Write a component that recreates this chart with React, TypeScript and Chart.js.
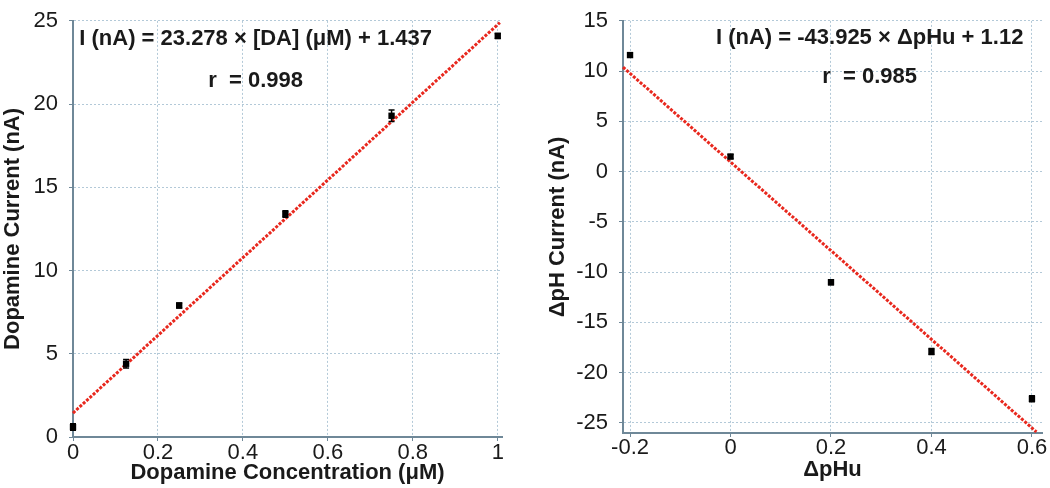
import React, { useEffect, useRef } from "react";
import { Chart, registerables } from "chart.js";

Chart.register(...registerables);

// ---- Left panel: dopamine calibration ----
const daConc = [0, 0.125, 0.25, 0.5, 0.75, 1];
const daCurrent = [0.6, 4.4, 7.9, 13.4, 19.3, 24.1];
const daErr = [0.2, 0.25, 0.15, 0.2, 0.35, 0.15];
const daFitX = [0, 1.005];
const daFitY = [1.44, 24.9];
const daXTicks = [0, 0.2, 0.4, 0.6, 0.8, 1];
const daYTicks = [0, 5, 10, 15, 20, 25];
const daEquation = "I (nA) = 23.278 × [DA] (μM) + 1.437";
const daR = "r  = 0.998";
const daXTitle = "Dopamine Concentration (μM)";
const daYTitle = "Dopamine Current (nA)";

// ---- Right panel: ΔpH calibration ----
const phX = [-0.2, 0, 0.2, 0.4, 0.6];
const phCurrent = [11.6, 1.5, -11.0, -17.9, -22.6];
const phErr = [0.2, 0.2, 0.25, 0.3, 0.3];
const phFitX = [-0.214, 0.609];
const phFitY = [10.4, -25.9];
const phXTicks = [-0.2, 0, 0.2, 0.4, 0.6];
const phYTicks = [-25, -20, -15, -10, -5, 0, 5, 10, 15];
const phEquation = "I (nA) = -43.925 × ΔpHu + 1.12";
const phR = "r  = 0.985";
const phXTitle = "ΔpHu";
const phYTitle = "ΔpH Current (nA)";

const FONT = '"Liberation Sans", Arial, Helvetica, sans-serif';
const GRID = "#b3c9d8";
const AXIS = "#6f8898";
const RED = "#e8281e";
const TEXT = "#1a1a1a";

type PanelSpec = {
  xs: number[];
  ys: number[];
  errs: number[];
  fitX: number[];
  fitY: number[];
  xTicks: number[];
  yTicks: number[];
  xMin: number;
  xMax: number;
  yMin: number;
  yMax: number;
  xTitle: string;
  yTitle: string;
  eq: string;
  r: string;
  eqPos: { x: number; y: number };
  rPos: { x: number; y: number };
  yAxisWidth: number;
  xAxisHeight: number;
  padTop: number;
  padRight: number;
  yTitlePadTop: number;
  yTickPad: number;
  xTickPad: number;
  xTitlePadBottom: number;
};

const overlayPlugin = {
  id: "overlay",
  afterDatasetsDraw(chart: any, _args: any, opts: any) {
    const { ctx, scales } = chart;
    const xs = scales.x;
    const ys = scales.y;
    const spec: PanelSpec = opts.spec;
    ctx.save();
    ctx.strokeStyle = "#000";
    ctx.lineWidth = 1.5;
    spec.xs.forEach((xv, i) => {
      const px = xs.getPixelForValue(xv);
      const top = ys.getPixelForValue(spec.ys[i] + spec.errs[i]);
      const bot = ys.getPixelForValue(spec.ys[i] - spec.errs[i]);
      ctx.beginPath();
      ctx.moveTo(px, top);
      ctx.lineTo(px, bot);
      ctx.moveTo(px - 3, top);
      ctx.lineTo(px + 3, top);
      ctx.moveTo(px - 3, bot);
      ctx.lineTo(px + 3, bot);
      ctx.stroke();
    });
    ctx.fillStyle = TEXT;
    ctx.font = `bold 22px ${FONT}`;
    ctx.textAlign = "center";
    ctx.textBaseline = "middle";
    ctx.fillText(spec.eq, xs.getPixelForValue(spec.eqPos.x), ys.getPixelForValue(spec.eqPos.y));
    ctx.fillText(spec.r, xs.getPixelForValue(spec.rPos.x), ys.getPixelForValue(spec.rPos.y));
    ctx.restore();
  },
};

function makeConfig(spec: PanelSpec): any {
  return {
    type: "scatter",
    data: {
      datasets: [
        {
          data: spec.xs.map((x, i) => ({ x, y: spec.ys[i] })),
          pointStyle: "rect",
          pointRadius: 4.5,
          backgroundColor: "#000",
          borderColor: "#000",
          borderWidth: 0,
          showLine: false,
          clip: false,
          order: 1,
        },
        {
          data: spec.fitX.map((x, i) => ({ x, y: spec.fitY[i] })),
          showLine: true,
          pointRadius: 0,
          borderColor: RED,
          borderWidth: 3,
          borderDash: [3, 1.5],
          clip: false,
          order: 2,
        },
      ],
    },
    options: {
      responsive: false,
      animation: false,
      layout: { padding: { top: spec.padTop, right: spec.padRight, left: 0, bottom: 0 } },
      plugins: {
        legend: { display: false },
        tooltip: { enabled: false },
        overlay: { spec },
      },
      scales: {
        x: {
          type: "linear",
          min: spec.xMin,
          max: spec.xMax,
          afterBuildTicks: (s: any) => {
            s.ticks = spec.xTicks.map((v) => ({ value: v }));
          },
          afterFit: (s: any) => {
            s.height = spec.xAxisHeight;
          },
          grid: { color: GRID, lineWidth: 1, drawTicks: true, tickLength: 4, tickColor: AXIS, tickWidth: 1 },
          border: { display: true, color: AXIS, width: 2, dash: [2, 2] },
          ticks: {
            font: { family: FONT, size: 22, lineHeight: 0.9 },
            color: TEXT,
            padding: spec.xTickPad,
            maxRotation: 0,
            autoSkip: false,
            callback: (v: any) => String(v),
          },
          title: {
            display: true,
            text: spec.xTitle,
            color: TEXT,
            font: { family: FONT, size: 22, weight: "bold" },
            padding: { top: 0, bottom: spec.xTitlePadBottom },
          },
        },
        y: {
          type: "linear",
          min: spec.yMin,
          max: spec.yMax,
          afterBuildTicks: (s: any) => {
            s.ticks = spec.yTicks.map((v) => ({ value: v }));
          },
          afterFit: (s: any) => {
            s.width = spec.yAxisWidth;
          },
          grid: { color: GRID, lineWidth: 1, drawTicks: true, tickLength: 4, tickColor: AXIS, tickWidth: 1 },
          border: { display: true, color: AXIS, width: 2, dash: [2, 2] },
          ticks: {
            font: { family: FONT, size: 22, lineHeight: 0.9 },
            color: TEXT,
            padding: spec.yTickPad,
            autoSkip: false,
            callback: (v: any) => String(v),
          },
          title: {
            display: true,
            text: spec.yTitle,
            color: TEXT,
            font: { family: FONT, size: 22, weight: "bold" },
            padding: { top: spec.yTitlePadTop, bottom: 0 },
          },
        },
      },
    },
    plugins: [overlayPlugin],
  };
}

const leftSpec: PanelSpec = {
  xs: daConc,
  ys: daCurrent,
  errs: daErr,
  fitX: daFitX,
  fitY: daFitY,
  xTicks: daXTicks,
  yTicks: daYTicks,
  xMin: 0,
  xMax: 1.01,
  yMin: 0,
  yMax: 25,
  xTitle: daXTitle,
  yTitle: daYTitle,
  eq: daEquation,
  r: daR,
  eqPos: { x: 0.43, y: 23.9 },
  rPos: { x: 0.43, y: 21.4 },
  yAxisWidth: 73,
  xAxisHeight: 51,
  padTop: 10,
  padRight: 18,
  yTitlePadTop: 0,
  yTickPad: 11,
  xTickPad: 2,
  xTitlePadBottom: 2,
};

const rightSpec: PanelSpec = {
  xs: phX,
  ys: phCurrent,
  errs: phErr,
  fitX: phFitX,
  fitY: phFitY,
  xTicks: phXTicks,
  yTicks: phYTicks,
  xMin: -0.214,
  xMax: 0.62,
  yMin: -26,
  yMax: 15,
  xTitle: phXTitle,
  yTitle: phYTitle,
  eq: phEquation,
  r: phR,
  eqPos: { x: 0.277, y: 13.3 },
  rPos: { x: 0.277, y: 9.46 },
  yAxisWidth: 93,
  xAxisHeight: 55,
  padTop: 17,
  padRight: 8,
  yTitlePadTop: 15,
  yTickPad: 11,
  xTickPad: 1,
  xTitlePadBottom: 5,
};

function Panel({ spec, left }: { spec: PanelSpec; left: number }) {
  const ref = useRef<HTMLCanvasElement | null>(null);
  useEffect(() => {
    if (!ref.current) return;
    const chart = new Chart(ref.current, makeConfig(spec));
    return () => chart.destroy();
  }, [spec]);
  return (
    <canvas
      ref={ref}
      width={520}
      height={488}
      style={{ position: "absolute", left, top: 0, width: 520, height: 488 }}
    />
  );
}

export default function App() {
  return (
    <div
      style={{
        position: "fixed",
        left: 0,
        top: 0,
        width: 1050,
        height: 488,
        background: "#ffffff",
        overflow: "hidden",
      }}
    >
      <Panel spec={leftSpec} left={0} />
      <Panel spec={rightSpec} left={530} />
    </div>
  );
}
